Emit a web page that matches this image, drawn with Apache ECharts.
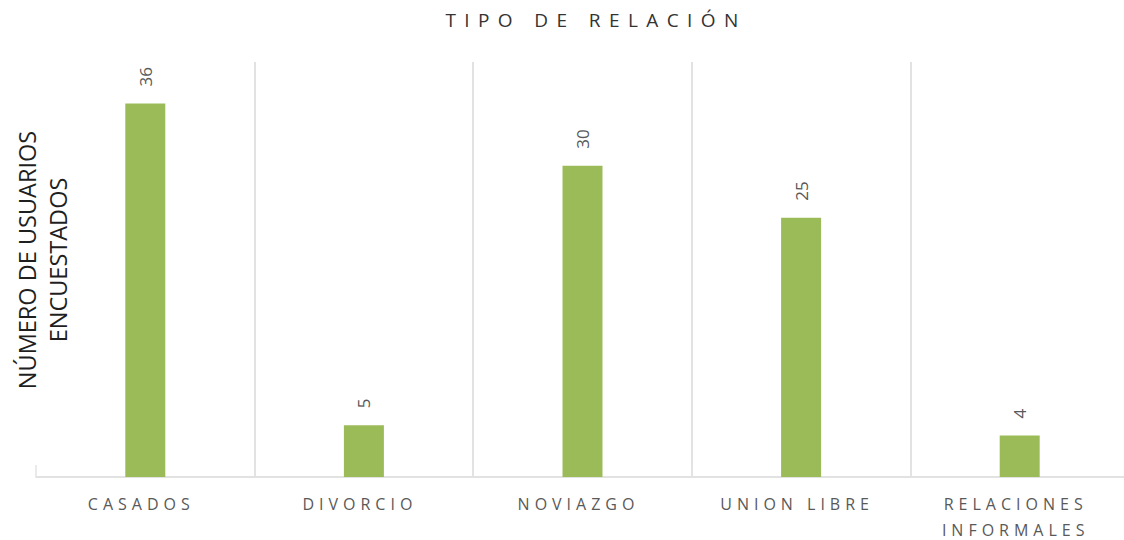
<!DOCTYPE html>
<html>
<head>
<meta charset="utf-8">
<script src="https://cdn.jsdelivr.net/npm/echarts@6/dist/echarts.min.js"></script>
<style>
  html, body { margin: 0; padding: 0; background: #fff; }
  #main { width: 1124px; height: 540px; }
</style>
</head>
<body>
<div id="main"></div>
<script>
// datos del gráfico
const titleText = 'TIPO DE RELACIÓN';
const yAxisName = 'NÚMERO DE USUARIOS\nENCUESTADOS';
const categories = ['CASADOS', 'DIVORCIO', 'NOVIAZGO', 'UNION LIBRE', 'RELACIONES\nINFORMALES'];
const values = [36, 5, 30, 25, 4];
const yMin = 0;
const yMax = 40;

const font = "'Open Sans', 'Noto Sans', sans-serif";
const chart = echarts.init(document.getElementById('main'), null, { renderer: 'svg' });

const option = {
  backgroundColor: '#ffffff',
  animation: false,
  title: {
    text: titleText,
    left: 587,
    textAlign: 'center',
    top: 5,
    textStyle: { color: '#333333', fontFamily: font, fontSize: 19, fontWeight: 'normal' },
  },
  grid: {
    left: 36,
    right: -5,
    top: 62,
    bottom: 63,
    containLabel: false,
    outerBoundsMode: 'none',
  },
  graphic: [
    {
      type: 'text',
      x: 42,
      y: 260,
      rotation: Math.PI / 2,
      style: {
        text: yAxisName,
        fill: '#1f1f1f',
        font: '23.5px ' + font,
        lineHeight: 31,
        align: 'center',
        verticalAlign: 'middle',
      },
    },
  ],
  xAxis: {
    type: 'category',
    data: categories,
    axisLine: { lineStyle: { color: '#d9d9d9', width: 1.5 } },
    axisTick: { show: true, inside: true, length: 12, lineStyle: { color: '#e3e3e3', width: 1.5 } },
    splitLine: {
      show: true,
      showMinLine: false,
      showMaxLine: false,
      lineStyle: { color: '#d9d9d9', width: 1.5 },
    },
    axisLabel: {
      interval: 0,
      color: '#595959',
      fontFamily: font,
      fontSize: 16,
      lineHeight: 26,
      margin: 14,
    },
  },
  yAxis: {
    type: 'value',
    min: yMin,
    max: yMax,
    show: false,
    splitLine: { show: false },
  },
  series: [
    {
      type: 'bar',
      data: values,
      barWidth: 40,
      itemStyle: { color: '#9bbb59' },
      label: {
        show: true,
        position: 'top',
        rotate: 90,
        align: 'left',
        verticalAlign: 'middle',
        distance: 17,
        color: '#595959',
        fontFamily: font,
        fontSize: 17,
      },
    },
  ],
};

chart.setOption(option);

// espaciado de letras para el título y las categorías
const labelLines = categories.join('\n').split('\n');
function applySpacing() {
  chart.getDom().querySelectorAll('text').forEach((el) => {
    const s = el.textContent;
    if (s === titleText) {
      el.setAttribute('letter-spacing', 8.4);
      el.setAttribute('dx', 4);
    } else if (labelLines.includes(s)) {
      el.setAttribute('letter-spacing', 5);
      el.setAttribute('dx', -4);
    }
  });
}
chart.on('finished', applySpacing);
applySpacing();
</script>
</body>
</html>
